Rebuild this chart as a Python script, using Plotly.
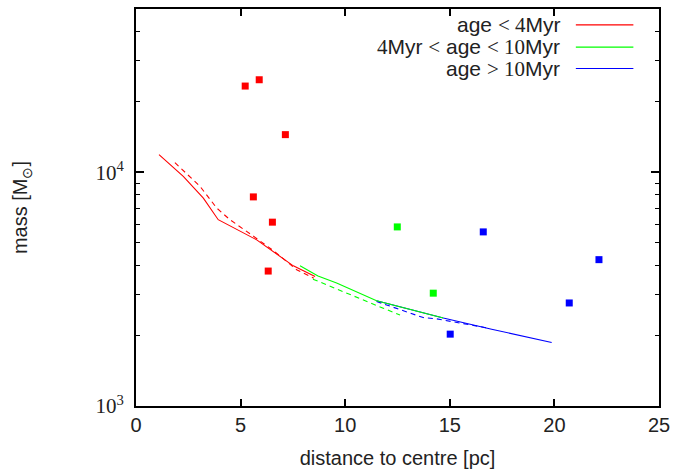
import plotly.graph_objects as go

# Cluster masses versus distance to the centre, split by age
red_pts_x = [5.22, 5.89, 7.14, 5.61, 6.52, 6.32]
red_pts_y = [23400, 24900, 14500, 7850, 6120, 3780]
green_pts_x = [12.49, 14.21]
green_pts_y = [5840, 3040]
blue_pts_x = [16.60, 20.71, 15.02, 22.13]
blue_pts_y = [5560, 2760, 2030, 4230]

# Mass-limit curves (solid and dashed) for each age group
red_solid_x = [1.10, 2.26, 3.22, 3.93, 5.77, 7.52, 8.56]
red_solid_y = [11900, 9610, 7760, 6270, 5140, 3980, 3580]
red_dash_x = [1.86, 3.06, 3.86, 4.49, 5.50, 6.60, 7.68, 8.50]
red_dash_y = [11000, 8710, 7030, 6270, 5420, 4600, 3830, 3520]
green_solid_x = [7.84, 8.70, 9.59, 11.50, 13.26, 14.69]
green_solid_y = [3980, 3600, 3360, 2820, 2570, 2380]
green_dash_x = [8.46, 10.23, 11.82, 12.62]
green_dash_y = [3490, 2990, 2620, 2450]
blue_solid_x = [11.50, 13.26, 14.69, 17.00, 19.87]
blue_solid_y = [2820, 2570, 2380, 2130, 1870]
blue_dash_x = [11.50, 12.86, 13.73, 14.37, 15.49, 16.90]
blue_dash_y = [2800, 2540, 2390, 2360, 2260, 2150]

x_ticks = [0, 5, 10, 15, 20, 25]
y_ticks = [1000, 10000]
y_tick_text = ["10<sup>3</sup>", "10<sup>4</sup>"]
y_minor = [2000, 3000, 4000, 5000, 6000, 7000, 8000, 9000, 20000, 30000, 40000]

SERIF = '<span style="font-family:Liberation Serif">'
legend_labels = [
    f'age {SERIF}&lt; 4</span>Myr',
    f'{SERIF}4</span>Myr {SERIF}&lt;</span> age {SERIF}&lt; 10</span>Myr',
    f'age {SERIF}&gt; 10</span>Myr',
]

RED, GREEN, BLUE = "#ff0000", "#00ff00", "#0000ff"
DASH = "5px,4px"
TXT = "#222222"

fig = go.Figure()

def curve(x, y, color, dash=None):
    fig.add_trace(go.Scatter(
        x=x, y=y, mode="lines",
        line=dict(color=color, width=1.1, dash=dash),
        showlegend=False, hoverinfo="skip"))

def squares(x, y, color):
    fig.add_trace(go.Scatter(
        x=x, y=y, mode="markers",
        marker=dict(symbol="square", size=7, color=color, line=dict(width=0)),
        showlegend=False))

curve(red_solid_x, red_solid_y, RED)
curve(red_dash_x, red_dash_y, RED, DASH)
curve(blue_solid_x, blue_solid_y, BLUE)
curve(blue_dash_x, blue_dash_y, BLUE, DASH)
curve(green_solid_x, green_solid_y, GREEN)
curve(green_dash_x, green_dash_y, GREEN, DASH)

squares(red_pts_x, red_pts_y, RED)
squares(green_pts_x, green_pts_y, GREEN)
squares(blue_pts_x, blue_pts_y, BLUE)

# Hand-built key: right-aligned labels with line samples to their right
key_y = [0.960, 0.904, 0.850]
for label, color, ky in zip(legend_labels, [RED, GREEN, BLUE], key_y):
    fig.add_annotation(
        x=0.815, y=ky, xref="paper", yref="paper",
        text=label, showarrow=False, xanchor="right", yanchor="middle",
        font=dict(family="Liberation Sans, Arial", size=21, color=TXT))
    fig.add_shape(
        type="line", xref="paper", yref="paper",
        x0=0.841, x1=0.951, y0=ky, y1=ky,
        line=dict(color=color, width=1.1))

fig.update_layout(
    width=673, height=472,
    margin=dict(l=136, r=14, t=9, b=66),
    paper_bgcolor="white", plot_bgcolor="white",
    showlegend=False,
    font=dict(family="Liberation Sans, Arial", size=20, color=TXT),
)

fig.update_xaxes(
    range=[0, 25], tickvals=x_ticks, automargin=False,
    ticks="inside", ticklen=7, tickwidth=1.5, tickcolor="black",
    showline=True, linecolor="black", linewidth=2, mirror="ticks",
    showgrid=False, zeroline=False,
    tickfont=dict(size=20, color=TXT),
    title=dict(text="distance to centre [pc]", font=dict(size=20, color=TXT),
               standoff=16),
)

fig.update_yaxes(
    type="log", range=[3, 4.699], automargin=False,
    tickvals=y_ticks, ticktext=y_tick_text,
    ticks="inside", ticklen=8, tickwidth=1.5, tickcolor="black",
    minor=dict(tickvals=y_minor, ticks="inside", ticklen=4,
               tickwidth=1.2, tickcolor="black", showgrid=False),
    showline=True, linecolor="black", linewidth=2, mirror="ticks",
    showgrid=False, zeroline=False,
    ticklabelstandoff=6,
    tickfont=dict(family="Liberation Serif", size=21, color=TXT),
    title=dict(text="mass [M<sub>⊙</sub>]", font=dict(size=20, color=TXT),
               standoff=62),
)

fig.write_html("out.html")
